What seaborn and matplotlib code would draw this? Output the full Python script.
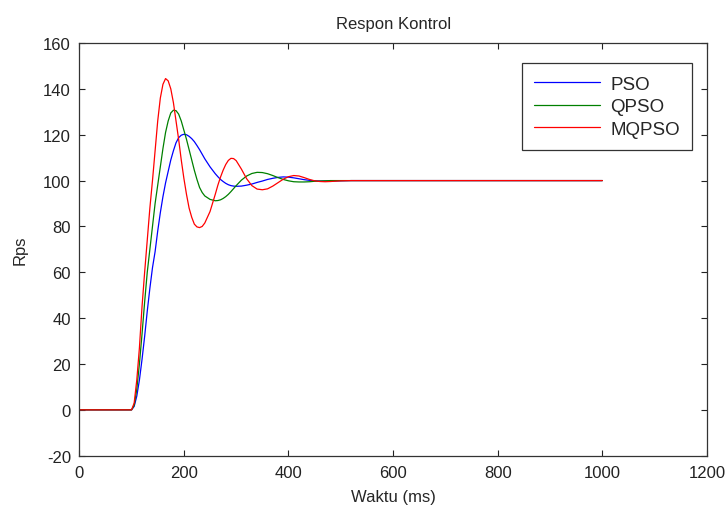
import numpy as np
import pandas as pd
import seaborn as sns
import matplotlib
matplotlib.use("Agg")
import matplotlib.pyplot as plt

# time axis (ms) and step responses
t_ms = [0, 100, 105, 110, 115, 120, 125, 130, 135, 140, 145, 150, 155, 160,
        165, 170, 175, 180, 185, 190, 195, 200, 205, 210, 215, 220, 225, 230,
        235, 240, 250, 260, 265, 270, 275, 280, 285, 290, 295, 300, 310, 320,
        330, 340, 350, 360, 370, 380, 390, 400, 410, 420, 430, 440, 450, 460,
        470, 480, 500, 520, 1000]

pso = [0, 0, 1.5, 6, 13, 22, 32, 43, 53, 62, 69, 78, 86, 93,
       99, 104, 109, 113, 116.5, 118.7, 119.8, 120.2, 120, 119.3, 118.3, 117, 115.3, 113.5,
       111.5, 109.5, 106, 103, 101.7, 100.5, 99.6, 98.8, 98.2, 97.8, 97.6, 97.5, 97.6, 98,
       98.5, 99.2, 99.8, 100.5, 101, 101.4, 101.6, 101.5, 101.2, 100.8, 100.4, 100.1, 99.9, 99.8,
       99.8, 99.8, 99.9, 100, 100]

qpso = [0, 0, 2, 9, 20, 33, 47, 60, 70, 80, 90, 98, 106, 114,
        121, 126, 129.5, 130.7, 130.5, 129, 126, 122, 118, 113.5, 109, 104.5, 100.5, 97,
        94.8, 93.3, 91.8, 91.2, 91.3, 91.6, 92.2, 93, 94, 95.2, 96.5, 97.8, 100.2, 102,
        103.1, 103.6, 103.5, 103, 102.2, 101.3, 100.5, 99.9, 99.5, 99.4, 99.4, 99.5, 99.7, 99.8,
        99.9, 100, 100, 100, 100]

mqpso = [0, 0, 3, 13, 27, 45, 60, 74, 88, 100, 113, 126, 136, 142,
         144.5, 143.5, 140, 134, 126, 118, 109, 101, 94, 88, 84, 81, 79.8, 79.5,
         80, 81.5, 86.5, 94, 98, 101.5, 104.5, 107, 108.8, 109.7, 109.6, 108.7, 105, 100.8,
         97.8, 96.3, 96, 96.4, 97.6, 99.1, 100.6, 101.7, 102.2, 102, 101.3, 100.5, 99.9, 99.6,
         99.5, 99.6, 99.9, 100, 100]

series_names = ["PSO", "QPSO", "MQPSO"]
series_colors = ["#0000ff", "#008000", "#ff0000"]

df = pd.DataFrame({"t": t_ms * 3,
                   "rps": pso + qpso + mqpso,
                   "metode": [n for n in series_names for _ in t_ms]})

sns.set_style("ticks")
plt.rcParams["font.family"] = ["Liberation Sans", "DejaVu Sans"]
plt.rcParams["axes.unicode_minus"] = False

fig = plt.figure(figsize=(7.27, 5.06), dpi=100)
ax = fig.add_axes([0.109, 0.0974, 0.8635, 0.8156])

sns.lineplot(data=df, x="t", y="rps", hue="metode", hue_order=series_names,
             palette=series_colors, linewidth=0.9, ax=ax, estimator=None, sort=False)

ax.set_xlim(0, 1200)
ax.set_ylim(-20, 160)
ax.set_xticks(np.arange(0, 1201, 200))
ax.set_yticks(np.arange(-20, 161, 20))
ax.tick_params(direction="in", top=True, right=True, length=4, width=0.8,
               labelsize=12, colors="#222222")
ax.tick_params(axis="y", pad=6)
ax.tick_params(axis="x", pad=7)
for s in ax.spines.values():
    s.set_color("#333333")
    s.set_linewidth(0.9)

ax.set_title("Respon Kontrol", fontsize=12, pad=11)
ax.set_xlabel("Waktu (ms)", fontsize=12, labelpad=6)
ax.set_ylabel("Rps", fontsize=12, labelpad=11)

leg = ax.legend(loc="upper right", bbox_to_anchor=(0.976, 0.951), borderaxespad=0,
                fontsize=13.5, handlelength=3.5, handletextpad=0.55, labelspacing=0.3,
                borderpad=0.65, fancybox=False, framealpha=1, edgecolor="#333333", title=None)
leg.get_frame().set_linewidth(0.9)

fig.savefig("out.png", dpi=100)
